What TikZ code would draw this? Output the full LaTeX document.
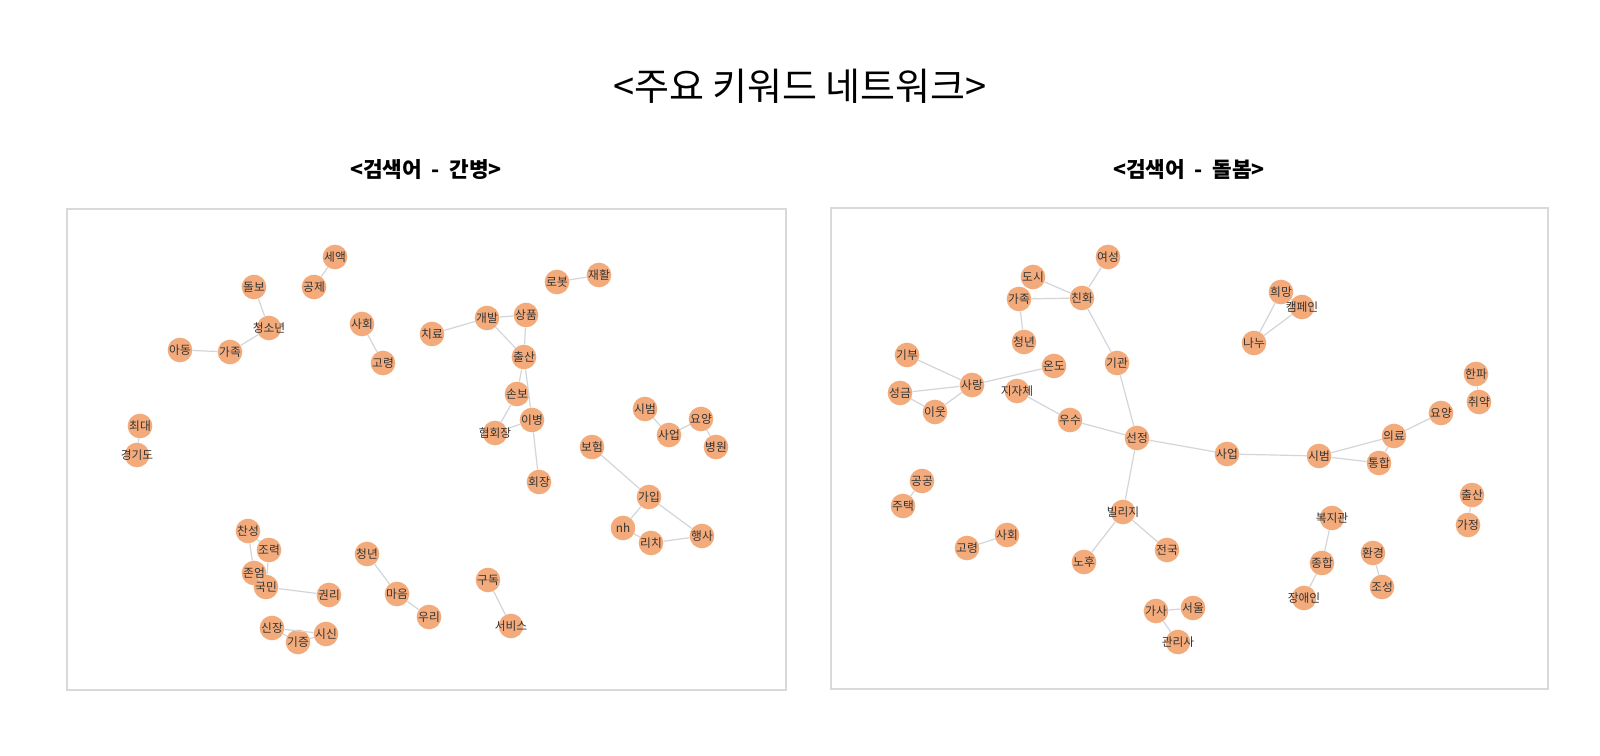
\documentclass[tikz,border=0pt]{standalone}
\usepackage{fontspec}
\setmainfont{Noto Sans CJK KR}
\definecolor{nodefill}{HTML}{F4AB7C}
\definecolor{edgegray}{HTML}{D2D5DA}
\definecolor{boxgray}{HTML}{D9D9D9}
\definecolor{labelgray}{HTML}{333333}
\pgfdeclarelayer{fg}
\pgfsetlayers{main,fg}
\newcommand\kwn[3]{%
  \node[kw] (#1) at (#2) {};
  \begin{pgfonlayer}{fg}\node[kwtext] (#1t) at (#1) {#3};\end{pgfonlayer}}
\begin{document}
\begin{tikzpicture}[x=0.75pt,y=-0.75pt,
  kw/.style={circle,fill=nodefill,minimum size=18.5pt,inner sep=0pt},
  kwtext/.style={inner sep=0pt,font=\fontsize{8.8}{9}\selectfont,text=labelgray},
  link/.style={draw=edgegray,line width=0.9pt},
  panel/.style={draw=boxgray,line width=1.1pt},
  maintitle/.style={font=\fontsize{28.5}{32}\selectfont},
  subtitle/.style={font=\fontsize{16}{18}\selectfont\bfseries}]
\useasboundingbox[fill=white] (0,0) rectangle (1600,756);
\node[maintitle] (title) at (800,86) {<주요 키워드 네트워크>};
\node[subtitle] (subL) at (426,170) {<검색어~~-~~간병>};
\node[subtitle] (subR) at (1189,170) {<검색어~~-~~돌봄>};
\draw[panel] (67,209) rectangle (786,690);
\draw[panel] (831,208) rectangle (1548,689);
% left panel
\kwn{L1}{335,257}{세액}
\kwn{L2}{314,287}{공제}
\kwn{L3}{254,287}{돌보}
\kwn{L4}{269,328}{청소년}
\kwn{L5}{180,350}{아동}
\kwn{L6}{230,352}{가족}
\kwn{L7}{362,324}{사회}
\kwn{L8}{383,363}{고령}
\kwn{L9}{432,334}{치료}
\kwn{L10}{487,318}{개발}
\kwn{L11}{526,315}{상품}
\kwn{L12}{524,357}{출산}
\kwn{L13}{517,394}{손보}
\kwn{L14}{532,420}{이병}
\kwn{L15}{495,433}{협회장}
\kwn{L16}{539,482}{회장}
\kwn{L17}{557,282}{로봇}
\kwn{L18}{599,275}{재활}
\kwn{L19}{645,409}{시범}
\kwn{L20}{669,435}{사업}
\kwn{L21}{701,419}{요양}
\kwn{L22}{716,447}{병원}
\kwn{L23}{592,447}{보험}
\kwn{L24}{649,497}{가입}
\kwn{L25}{623,528}{nh}
\kwn{L26}{651,543}{리치}
\kwn{L27}{702,536}{행사}
\kwn{L28}{140,426}{최대}
\kwn{L29}{137,455}{경기도}
\kwn{L30}{248,531}{찬성}
\kwn{L31}{269,550}{조력}
\kwn{L32}{254,573}{존엄}
\kwn{L33}{266,587}{국민}
\kwn{L34}{329,595}{권리}
\kwn{L35}{367,554}{청년}
\kwn{L36}{397,594}{마음}
\kwn{L37}{429,617}{우리}
\kwn{L38}{272,628}{신장}
\kwn{L39}{298,642}{기증}
\kwn{L40}{326,634}{시신}
\kwn{L41}{488,580}{구독}
\kwn{L42}{511,626}{서비스}
\foreach \a/\b in {L1/L2,L3/L4,L4/L6,L6/L5,L7/L8,L9/L10,L10/L11,L10/L12,L11/L12,
  L12/L13,L12/L14,L13/L15,L15/L14,L14/L16,L17/L18,L19/L20,L20/L21,L21/L22,
  L23/L24,L24/L25,L24/L27,L25/L26,L26/L27,L28/L29,L30/L31,L30/L32,L31/L33,
  L32/L33,L33/L34,L35/L36,L36/L37,L38/L39,L38/L40,L39/L40,L41/L42}
  \draw[link] (\a) -- (\b);
% right panel
\kwn{R1}{1108,257}{여성}
\kwn{R2}{1033,277}{도시}
\kwn{R3}{1082,298}{친화}
\kwn{R4}{1019,299}{가족}
\kwn{R5}{1024,342}{청년}
\kwn{R6}{1117,363}{기관}
\kwn{R7}{907,355}{기부}
\kwn{R8}{1054,366}{온도}
\kwn{R9}{972,385}{사랑}
\kwn{R10}{900,393}{성금}
\kwn{R11}{935,412}{이웃}
\kwn{R12}{1017,391}{지자체}
\kwn{R13}{1070,420}{우수}
\kwn{R14}{1137,438}{선정}
\kwn{R15}{1281,292}{희망}
\kwn{R16}{1302,307}{캠페인}
\kwn{R17}{1254,343}{나누}
\kwn{R18}{1476,374}{한파}
\kwn{R19}{1479,402}{취약}
\kwn{R20}{1441,413}{요양}
\kwn{R21}{1394,436}{의료}
\kwn{R22}{1319,456}{시범}
\kwn{R23}{1379,463}{통합}
\kwn{R24}{1227,454}{사업}
\kwn{R25}{1472,495}{출산}
\kwn{R26}{1468,525}{가정}
\kwn{R27}{1332,518}{복지관}
\kwn{R28}{1322,563}{종합}
\kwn{R29}{1304,598}{장애인}
\kwn{R30}{1373,553}{환경}
\kwn{R31}{1382,587}{조성}
\kwn{R32}{922,481}{공공}
\kwn{R33}{903,506}{주택}
\kwn{R34}{1007,535}{사회}
\kwn{R35}{967,548}{고령}
\kwn{R36}{1123,512}{빌리지}
\kwn{R37}{1084,562}{노후}
\kwn{R38}{1167,550}{전국}
\kwn{R39}{1156,611}{가사}
\kwn{R40}{1193,608}{서울}
\kwn{R41}{1178,642}{관리사}
\foreach \a/\b in {R1/R3,R2/R3,R4/R3,R4/R5,R3/R6,R6/R14,R7/R9,R10/R9,R10/R11,
  R11/R9,R9/R8,R12/R13,R13/R14,R14/R24,R14/R36,R36/R37,R36/R38,R24/R22,
  R22/R21,R22/R23,R21/R23,R21/R20,R18/R19,R15/R17,R16/R17,R15/R16,R32/R33,
  R34/R35,R39/R40,R39/R41,R27/R28,R28/R29,R30/R31,R25/R26}
  \draw[link] (\a) -- (\b);
\end{tikzpicture}
\end{document}
